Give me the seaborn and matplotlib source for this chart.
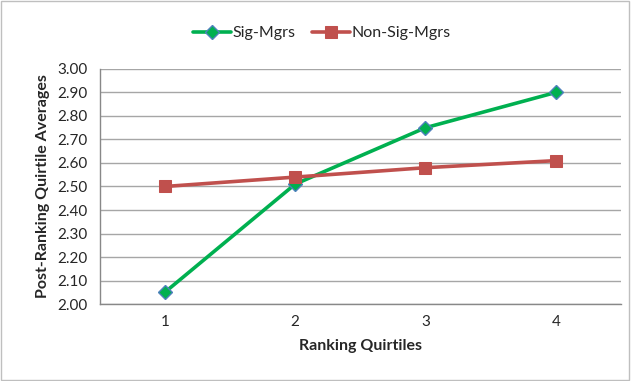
import matplotlib
matplotlib.use("Agg")
import matplotlib.pyplot as plt
import pandas as pd
import seaborn as sns
from matplotlib.patches import Rectangle

# data
quartiles = [1, 2, 3, 4]
sig_mgrs = [2.05, 2.51, 2.75, 2.90]
non_sig_mgrs = [2.50, 2.54, 2.58, 2.61]
y_ticks = [2.00, 2.10, 2.20, 2.30, 2.40, 2.50, 2.60, 2.70, 2.80, 2.90, 3.00]

sns.set_style("white")
plt.rcParams["font.family"] = ["Lato", "DejaVu Sans"]

df_sig = pd.DataFrame({"q": quartiles, "v": sig_mgrs})
df_non = pd.DataFrame({"q": quartiles, "v": non_sig_mgrs})

fig = plt.figure(figsize=(6.31, 3.81), dpi=100)
ax = fig.add_axes([0.158, 0.202, 0.826, 0.617])

sns.lineplot(
    data=df_sig, x="q", y="v", ax=ax,
    color="#00B050", linewidth=2.6,
    marker="D", markersize=7,
    markerfacecolor="#00B050", markeredgecolor="#4F81BD",
    markeredgewidth=1.0, label="Sig-Mgrs", zorder=3
)

sns.lineplot(
    data=df_non, x="q", y="v", ax=ax,
    color="#C0504D", linewidth=2.6,
    marker="s", markersize=9,
    markerfacecolor="#C0504D", markeredgecolor="#C0504D",
    label="Non-Sig-Mgrs", zorder=4
)

ax.set_xlim(0.5, 4.5)
ax.set_ylim(2.0, 3.0)
ax.set_yticks(y_ticks)
ax.set_yticklabels([f"{t:.2f}" for t in y_ticks], fontsize=11)
ax.set_xticks(quartiles)
ax.set_xticklabels([str(q) for q in quartiles], fontsize=11)
ax.set_xticks([1.5, 2.5, 3.5], minor=True)
ax.tick_params(axis="x", which="major", length=0, pad=8)
ax.tick_params(axis="x", which="minor", length=5, color="#888888", direction="out")
ax.tick_params(axis="y", length=5, color="#888888", direction="out", pad=4)

ax.grid(axis="y", color="#A6A6A6", linewidth=1.0)
ax.set_axisbelow(True)

for side in ["top", "right"]:
    ax.spines[side].set_visible(False)
for side in ["left", "bottom"]:
    ax.spines[side].set_color("#888888")
    ax.spines[side].set_linewidth(1.0)

ax.set_xlabel("Ranking Quirtiles", fontsize=11.5, fontweight="bold", labelpad=7)
ax.set_ylabel("Post-Ranking Quirtile Averages", fontsize=11.5, fontweight="bold", labelpad=5)

handles, labels = ax.get_legend_handles_labels()
ax.legend(
    handles, labels,
    loc="center", bbox_to_anchor=(0.51, 0.913),
    bbox_transform=fig.transFigure,
    ncol=2, frameon=False, fontsize=11.5,
    handlelength=2.4, handletextpad=0.1, columnspacing=1.0
)

fig.patches.append(Rectangle(
    (0.002, 0.003), 0.995, 0.994,
    transform=fig.transFigure, fill=False,
    edgecolor="#BFBFBF", linewidth=1.0
))

fig.savefig("out.png", dpi=100)
